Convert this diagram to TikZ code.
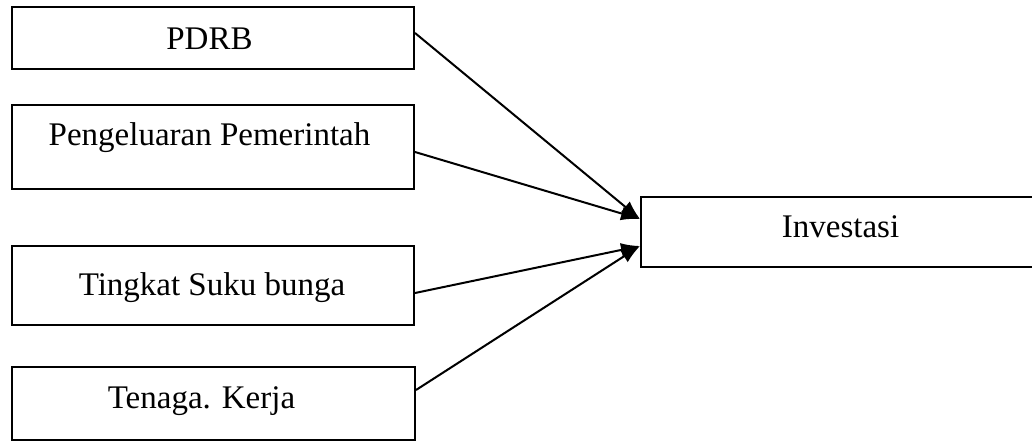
\documentclass[tikz,border=0pt]{standalone}
\usepackage{fontspec}
\setmainfont{Liberation Serif}
\usetikzlibrary{arrows.meta}
\begin{document}
\begin{tikzpicture}[x=1pt,y=-1pt,
  box/.style={draw, line width=2pt, rectangle, inner sep=0pt, text height=30pt,
              font=\fontsize{33}{40}\selectfont},
  % pushes the label left of the box centre by half the given width
  nudge/.style={execute at end node={\hspace*{#1}}},
  link/.style={line width=2pt, -{Latex[length=19pt,width=14pt]}}]
\useasboundingbox (0,0) rectangle (1032,441);
\clip (0,0) rectangle (1032,441);
% factors
\node[box, nudge=7pt, minimum width=402pt, minimum height=62pt, text depth=6pt]  (pdrb) at (213,38)    {PDRB};
\node[box, nudge=7pt, minimum width=402pt, minimum height=84pt, text depth=34pt] (gov)  at (213,147)   {Pengeluaran Pemerintah};
\node[box, nudge=2pt, minimum width=402pt, minimum height=79pt, text depth=11pt] (rate) at (213,285.5) {Tingkat Suku bunga};
\node[box, nudge=24pt, minimum width=403pt, minimum height=73pt, text depth=21pt] (lab)  at (213.5,403.5) {Tenaga. Kerja};
% outcome
\node[box, minimum width=399pt, minimum height=70pt, text depth=20pt] (inv)  at (840.5,232) {Investasi};
% influences
\draw[link] ([yshift=5pt]pdrb.east)   -- ([yshift=13pt]inv.west);
\draw[link] ([yshift=-5pt]gov.east)   -- ([yshift=13pt]inv.west);
\draw[link] ([yshift=-7.5pt]rate.east) -- ([yshift=-14pt]inv.west);
\draw[link] ([yshift=13.5pt]lab.east) -- ([yshift=-14pt]inv.west);
\end{tikzpicture}
\end{document}
